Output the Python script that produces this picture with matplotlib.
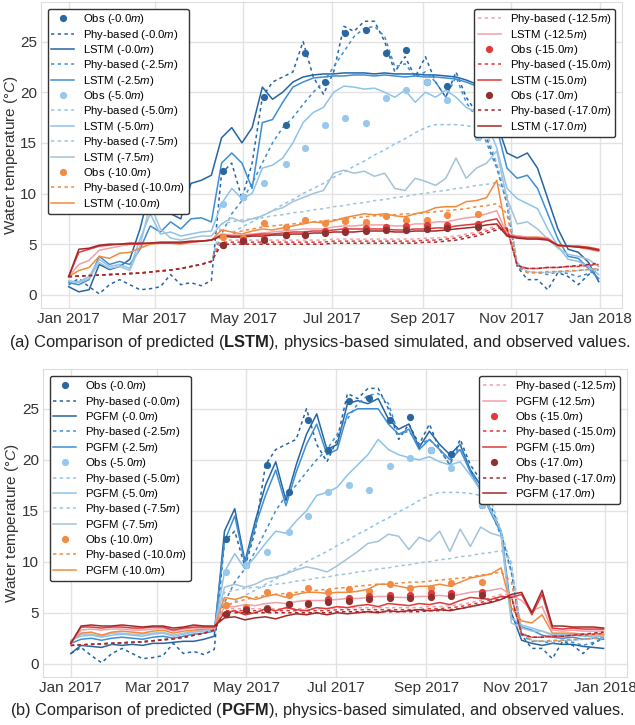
import numpy as np
import pandas as pd
import matplotlib
matplotlib.use("Agg")
import matplotlib.pyplot as plt
import matplotlib.dates as mdates

plt.rcParams['font.family'] = ['Liberation Sans', 'DejaVu Sans']
plt.rcParams['mathtext.fontset'] = 'custom'
plt.rcParams['mathtext.rm'] = 'Liberation Sans'
plt.rcParams['mathtext.it'] = 'Liberation Sans:italic'
plt.rcParams['mathtext.bf'] = 'Liberation Sans:bold'

# ---------------- data ----------------
week_dates = pd.date_range("2017-01-01", periods=53, freq="7D")
depths = [0.0, 2.5, 5.0, 7.5, 10.0, 12.5, 15.0, 17.0]

obs_dates = pd.to_datetime(["2017-04-17", "2017-05-01", "2017-05-15", "2017-05-30", "2017-06-12",
                            "2017-06-26", "2017-07-10", "2017-07-24", "2017-08-07", "2017-08-21",
                            "2017-09-04", "2017-09-18", "2017-10-09"])
obs_00 = [12.2, 9.7, 19.5, 16.8, 23.9, 21.0, 25.8, 26.1, 23.9, 24.2, 21.0, 20.6, 15.6]
obs_50 = [9.0, 9.7, 11.0, 12.9, 14.5, 16.8, 17.5, 17.0, 19.4, 20.2, 21.0, 19.2, 15.6]
obs_100 = [5.75, 5.6, 7.05, 6.7, 7.4, 7.05, 7.3, 7.15, 7.8, 7.4, 7.4, 7.9, 8.0]
obs_150 = [4.9, 5.4, 5.5, 5.9, 6.0, 6.3, 6.4, 6.6, 6.7, 6.75, 6.9, 6.9, 7.0]
obs_170 = [4.9, 5.3, 5.4, 5.9, 5.9, 6.1, 6.2, 6.3, 6.4, 6.4, 6.5, 6.6, 6.7]

phy_00 = [1.0, 1.6, 0.8, 0.1, 1.0, 1.5, 1.0, 0.5, 0.6, 0.8, 2.0, 1.0, 1.2, 0.9, 1.4,
          12.0, 13.0, 9.5, 13.0, 19.5, 21.0, 21.5, 22.0, 25.0, 21.5, 19.8,
          22.0, 26.5, 26.0, 27.0, 27.0, 25.0, 22.0, 23.5, 21.5, 23.5, 21.0, 19.5, 22.0, 19.5, 18.0,
          15.5, 12.8, 9.0, 2.8, 1.5, 1.5, 0.5, 2.2, 1.8, 1.0, 2.0, 2.5]
phy_25 = [1.8, 1.85, 1.9, 1.95, 2.0, 2.05, 2.1, 2.15, 2.25, 2.35, 2.45, 2.6, 2.8, 3.0, 3.3,
          6.0, 8.0, 9.3, 11.0, 13.0, 15.0, 16.5, 17.5, 18.8, 20.0, 21.0,
          22.5, 24.0, 25.5, 26.3, 26.5, 25.5, 22.5, 22.8, 21.5, 22.0, 21.0, 19.5, 21.5, 19.0, 17.5,
          15.0, 12.5, 9.0, 2.8, 2.2, 2.2, 2.0, 2.3, 2.1, 1.8, 2.1, 2.5]
phy_50 = [1.8, 1.85, 1.9, 1.95, 2.0, 2.05, 2.1, 2.15, 2.25, 2.35, 2.45, 2.6, 2.8, 3.0, 3.3,
          5.6, 6.1, 6.7, 7.2, 7.8, 8.3, 8.9, 9.4, 10.0, 10.5, 11.0,
          11.6, 12.1, 12.7, 13.2, 13.8, 14.3, 14.9, 15.4, 16.0, 16.5, 16.8, 16.8, 16.8, 16.7, 16.5,
          16.0, 13.0, 9.5, 3.2, 2.3, 2.2, 2.2, 2.3, 2.3, 2.4, 2.5, 2.6]
phy_75 = [1.8, 1.85, 1.9, 1.95, 2.0, 2.05, 2.1, 2.15, 2.25, 2.35, 2.45, 2.6, 2.8, 3.0, 3.3,
          7.0, 7.2, 7.4, 7.5, 7.6, 7.8, 7.9, 8.1, 8.2, 8.4, 8.5,
          8.7, 8.8, 9.0, 9.1, 9.3, 9.4, 9.6, 9.7, 9.9, 10.0, 10.2, 10.3, 10.5, 10.6, 10.8,
          10.9, 11.1, 10.0, 3.0, 2.3, 2.2, 2.2, 2.3, 2.3, 2.4, 2.5, 2.6]
phy_100 = [1.8, 1.85, 1.9, 1.95, 2.0, 2.05, 2.1, 2.15, 2.25, 2.35, 2.45, 2.6, 2.8, 3.0, 3.3,
           5.6, 6.0, 6.3, 6.5, 6.7, 6.8, 6.9, 7.0, 7.1, 7.2, 7.3,
           7.4, 7.5, 7.6, 7.7, 7.8, 7.8, 7.9, 8.0, 8.0, 8.1, 8.2, 8.3, 8.4, 8.5, 8.7,
           8.8, 9.0, 8.0, 3.0, 2.2, 2.2, 2.3, 2.3, 2.4, 2.4, 2.5, 2.6]
phy_125 = [1.8, 1.85, 1.9, 1.95, 2.0, 2.05, 2.1, 2.15, 2.25, 2.35, 2.45, 2.6, 2.8, 3.0, 3.3,
           5.4, 5.4, 5.4, 5.4, 5.4, 5.4, 5.4, 5.4, 5.4, 5.4, 5.4,
           5.5, 5.5, 5.5, 5.5, 5.5, 5.5, 5.5, 5.5, 5.5, 5.6, 5.6, 5.7, 5.8, 6.0, 6.2,
           6.5, 6.8, 6.8, 2.9, 2.6, 2.6, 2.7, 2.7, 2.8, 2.8, 2.9, 3.0]
phy_150 = [1.8, 1.85, 1.9, 1.95, 2.0, 2.05, 2.1, 2.15, 2.25, 2.35, 2.45, 2.6, 2.8, 3.0, 3.3,
           5.2, 5.2, 5.2, 5.2, 5.2, 5.2, 5.2, 5.2, 5.2, 5.2, 5.2,
           5.3, 5.3, 5.3, 5.3, 5.3, 5.3, 5.3, 5.3, 5.3, 5.4, 5.4, 5.5, 5.6, 5.8, 6.0,
           6.3, 6.6, 6.6, 2.9, 2.6, 2.6, 2.7, 2.7, 2.8, 2.8, 2.9, 3.0]
phy_170 = [1.8, 1.85, 1.9, 1.95, 2.0, 2.05, 2.1, 2.15, 2.25, 2.35, 2.45, 2.6, 2.8, 3.0, 3.3,
           5.0, 5.0, 5.0, 5.0, 5.0, 5.0, 5.0, 5.0, 5.0, 5.0, 5.0,
           5.1, 5.1, 5.1, 5.1, 5.1, 5.1, 5.1, 5.1, 5.1, 5.2, 5.2, 5.3, 5.4, 5.6, 5.8,
           6.1, 6.4, 6.5, 2.9, 2.6, 2.6, 2.7, 2.7, 2.8, 2.9, 3.0, 3.1]

lstm_00 = [0.8, 0.3, 0.5, 3.0, 2.5, 2.8, 3.5, 6.5, 10.5, 9.0, 8.0, 7.5, 11.0, 11.3, 11.8,
           15.5, 16.5, 15.0, 16.5, 20.5, 19.3, 20.0, 21.0, 21.5, 21.7, 21.8,
           21.8, 21.9, 21.9, 21.9, 21.8, 21.9, 21.8, 21.8, 21.8, 21.7, 21.7, 21.6, 21.5, 21.2, 20.8,
           20.0, 17.0, 14.0, 13.5, 14.0, 12.5, 9.5, 6.5, 4.5, 4.2, 3.2, 1.3]
lstm_25 = [1.2, 1.0, 1.5, 3.8, 3.0, 3.3, 3.0, 4.5, 6.8, 6.2, 7.2, 6.5, 7.5, 7.6, 7.2,
           13.0, 14.0, 13.0, 10.5, 17.0, 17.3, 19.0, 20.5, 21.0, 21.4, 21.5,
           21.6, 21.6, 21.7, 21.7, 21.6, 21.7, 21.6, 21.5, 21.6, 21.5, 21.5, 21.4, 21.3, 21.0, 20.6,
           19.5, 16.5, 12.5, 11.5, 11.8, 10.5, 8.0, 5.5, 3.8, 3.6, 2.6, 1.6]
lstm_50 = [1.3, 1.3, 1.8, 3.5, 2.8, 3.0, 2.6, 5.5, 8.0, 6.0, 6.2, 5.8, 6.0, 6.2, 6.3,
           9.0, 10.5, 9.5, 10.0, 12.5, 12.8, 13.5, 15.0, 17.0, 18.0, 18.5,
           20.0, 20.6, 20.5, 20.3, 20.4, 20.0, 19.5, 20.2, 19.0, 20.0, 19.5, 20.2, 19.5, 18.5, 18.0,
           17.0, 14.5, 10.5, 9.5, 9.0, 8.5, 6.5, 4.8, 3.5, 3.3, 2.8, 2.0]
lstm_75 = [1.4, 1.2, 1.6, 3.2, 2.6, 2.8, 2.4, 4.8, 9.0, 6.5, 5.6, 5.4, 5.6, 5.8, 5.8,
           7.0, 7.6, 7.2, 7.5, 7.8, 8.3, 8.6, 9.2, 9.6, 10.0, 10.3,
           12.0, 12.3, 12.0, 12.2, 11.7, 12.0, 10.5, 10.3, 11.5, 11.2, 10.8, 11.5, 13.5, 11.5, 12.5,
           13.0, 14.2, 9.5, 7.0, 7.2, 6.5, 5.5, 4.6, 4.0, 3.8, 3.5, 2.8]
lstm_100 = [1.8, 2.4, 2.7, 3.8, 3.6, 4.1, 4.2, 4.6, 5.0, 5.1, 5.1, 5.0, 5.2, 5.3, 5.4,
            6.4, 6.2, 6.0, 6.3, 6.5, 6.4, 6.6, 6.8, 7.0, 7.2, 7.1,
            7.3, 7.6, 7.8, 8.0, 7.9, 8.0, 7.8, 7.7, 8.0, 8.2, 8.6, 8.7, 8.7, 9.2, 9.3,
            9.6, 11.3, 6.0, 5.8, 5.7, 5.7, 5.6, 4.8, 4.8, 4.7, 4.5, 4.3]
lstm_125 = [1.8, 3.0, 3.4, 4.4, 4.6, 4.8, 5.0, 5.0, 5.1, 5.1, 5.1, 5.1, 5.2, 5.3, 5.4,
            6.0, 5.9, 5.9, 6.0, 6.1, 6.2, 6.3, 6.4, 6.5, 6.5, 6.5,
            6.7, 6.8, 6.8, 6.9, 6.9, 6.9, 6.8, 6.8, 7.0, 7.0, 7.2, 7.2, 7.4, 7.6, 7.7,
            8.0, 8.3, 6.0, 5.8, 5.7, 5.6, 5.6, 4.9, 4.8, 4.8, 4.6, 4.4]
lstm_150 = [1.8, 4.2, 4.5, 4.8, 4.9, 5.0, 5.0, 5.0, 5.1, 5.1, 5.1, 5.1, 5.2, 5.3, 5.4,
            5.9, 5.8, 5.8, 5.9, 6.0, 6.0, 6.1, 6.2, 6.2, 6.3, 6.3,
            6.4, 6.5, 6.5, 6.5, 6.5, 6.5, 6.4, 6.4, 6.5, 6.5, 6.6, 6.6, 6.8, 6.9, 7.0,
            7.3, 7.5, 5.9, 5.7, 5.6, 5.6, 5.5, 4.9, 4.8, 4.8, 4.7, 4.5]
lstm_170 = [1.8, 4.5, 4.6, 4.9, 5.0, 5.0, 5.1, 5.1, 5.1, 5.2, 5.2, 5.2, 5.3, 5.3, 5.4,
            5.8, 5.7, 5.7, 5.8, 5.8, 5.9, 5.9, 6.0, 6.0, 6.1, 6.1,
            6.2, 6.2, 6.2, 6.3, 6.3, 6.3, 6.2, 6.2, 6.3, 6.3, 6.3, 6.4, 6.5, 6.6, 6.7,
            6.9, 7.0, 5.8, 5.6, 5.5, 5.5, 5.4, 4.9, 4.8, 4.7, 4.6, 4.4]

pgfm_00 = [1.0, 1.8, 1.7, 1.6, 1.9, 1.8, 1.9, 1.8, 2.0, 2.0, 2.1, 2.2, 2.2, 2.4, 2.7,
           13.0, 15.2, 10.0, 14.0, 17.5, 19.8, 16.0, 19.5, 22.5, 24.5, 21.0,
           21.5, 25.5, 25.8, 25.5, 26.0, 24.0, 23.0, 23.5, 21.2, 22.8, 21.5, 20.5, 21.5, 19.0, 17.5,
           15.0, 13.0, 5.0, 2.3, 2.0, 1.8, 2.0, 1.9, 1.9, 1.7, 1.6, 1.5]
pgfm_25 = [2.0, 2.4, 2.5, 2.3, 2.5, 2.6, 2.5, 2.4, 2.6, 2.7, 2.5, 2.7, 2.9, 3.0, 3.2,
           12.0, 14.5, 9.8, 13.5, 16.5, 19.0, 15.5, 18.8, 21.5, 23.5, 20.5,
           21.0, 24.5, 25.0, 25.0, 25.0, 23.5, 22.5, 23.0, 21.0, 22.0, 21.0, 20.0, 21.0, 18.8, 17.0,
           14.8, 12.8, 4.5, 3.6, 3.3, 2.8, 2.6, 2.5, 2.6, 2.4, 2.5, 2.4]
pgfm_50 = [2.3, 2.7, 2.8, 2.6, 2.8, 2.9, 2.8, 2.7, 2.9, 3.0, 2.7, 2.9, 3.1, 3.2, 3.3,
           9.0, 10.8, 9.3, 10.5, 11.8, 13.0, 12.8, 14.0, 15.0, 16.5, 16.8,
           17.3, 18.5, 19.5, 20.5, 22.0, 21.0, 20.5, 20.2, 20.0, 20.3, 19.8, 19.5, 19.8, 18.5, 17.0,
           15.0, 13.0, 4.5, 3.8, 3.5, 3.2, 2.8, 2.7, 2.8, 2.7, 2.7, 2.7]
pgfm_75 = [2.2, 2.9, 2.9, 2.7, 3.0, 3.0, 2.9, 2.9, 3.0, 3.1, 2.8, 3.0, 3.2, 3.3, 3.4,
           7.5, 7.8, 7.5, 7.8, 8.3, 8.5, 8.8, 9.2, 9.5, 9.3, 9.0,
           9.6, 10.3, 11.0, 11.8, 12.0, 12.7, 12.5, 11.2, 12.4, 12.0, 13.0, 11.0, 13.2, 11.5, 13.4,
           12.8, 12.5, 4.0, 3.5, 3.2, 3.2, 2.9, 2.9, 2.8, 2.8, 2.8, 2.8]
pgfm_100 = [2.2, 3.0, 3.1, 2.8, 3.1, 3.2, 3.1, 3.0, 3.2, 3.3, 3.0, 3.2, 3.3, 3.4, 3.5,
            6.5, 6.3, 6.6, 6.3, 6.6, 6.8, 6.5, 6.8, 7.0, 7.0, 6.9,
            7.0, 7.0, 7.1, 7.3, 7.8, 7.8, 7.6, 7.4, 7.6, 7.6, 7.8, 7.6, 8.0, 8.4, 8.6,
            8.8, 9.4, 5.5, 4.2, 4.0, 4.8, 3.0, 3.0, 3.0, 2.9, 2.9, 2.9]
pgfm_125 = [2.0, 3.3, 3.4, 3.3, 3.4, 3.4, 3.3, 3.3, 3.4, 3.5, 3.2, 3.4, 3.5, 3.5, 3.5,
            5.6, 5.6, 5.8, 5.7, 5.9, 6.0, 5.9, 6.1, 6.2, 6.2, 6.2,
            6.3, 6.4, 6.4, 6.5, 6.6, 6.6, 6.5, 6.5, 6.6, 6.6, 6.7, 6.6, 6.8, 7.0, 7.1,
            7.2, 7.4, 6.7, 6.2, 5.2, 5.6, 3.3, 3.2, 3.3, 3.2, 3.2, 3.2]
pgfm_150 = [2.0, 3.6, 3.6, 3.5, 3.6, 3.6, 3.5, 3.5, 3.6, 3.6, 3.3, 3.5, 3.6, 3.6, 3.6,
            5.0, 5.2, 4.8, 5.0, 5.4, 5.2, 5.5, 5.3, 5.2, 5.5, 5.4,
            5.6, 5.5, 5.7, 5.8, 5.6, 5.9, 5.8, 5.7, 5.9, 5.8, 6.0, 5.8, 6.2, 6.5, 6.4,
            6.3, 6.6, 6.5, 6.8, 4.8, 6.8, 3.5, 3.4, 3.5, 3.4, 3.4, 3.4]
pgfm_170 = [2.0, 3.7, 3.8, 3.7, 3.7, 3.8, 3.7, 3.6, 3.7, 3.7, 3.5, 3.6, 3.8, 3.7, 3.7,
            4.5, 4.6, 4.3, 4.5, 4.6, 4.4, 4.7, 4.9, 4.8, 5.0, 4.8,
            5.0, 4.9, 5.0, 5.1, 5.0, 5.2, 5.1, 5.2, 5.3, 5.2, 5.3, 5.2, 5.4, 5.6, 5.8,
            6.0, 6.3, 6.8, 7.0, 5.0, 7.2, 3.7, 3.7, 3.6, 3.6, 3.6, 3.5]

colors = ["#2565a3", "#3d8ed3", "#8dc3eb", "#a3c3d8", "#f28a3c", "#efa0a8", "#e0393a", "#a3282a"]
obs_colors = {0.0: "#2a66a0", 5.0: "#98c9ec", 10.0: "#f08c46", 15.0: "#df3a3d", 17.0: "#8e3030"}

phy = [phy_00, phy_25, phy_50, phy_75, phy_100, phy_125, phy_150, phy_170]
lstm = [lstm_00, lstm_25, lstm_50, lstm_75, lstm_100, lstm_125, lstm_150, lstm_170]
pgfm = [pgfm_00, pgfm_25, pgfm_50, pgfm_75, pgfm_100, pgfm_125, pgfm_150, pgfm_170]
obs = {0.0: obs_00, 5.0: obs_50, 10.0: obs_100, 15.0: obs_150, 17.0: obs_170}

fig = plt.figure(figsize=(6.35, 7.25), dpi=100)
ax_a = fig.add_axes([41/635, 1-308/725, 581/635, 306/725])
ax_b = fig.add_axes([43/635, 1-677/725, 584/635, 308/725])


def draw(ax, model, name):
    handles = []
    for i, d in enumerate(depths):
        c = colors[i]
        if d in obs:
            h, = ax.plot(obs_dates, obs[d], 'o', color=obs_colors[d], markersize=5.2,
                         markeredgewidth=0, zorder=3, label=f"Obs (-{d:.1f}$m$)")
            handles.append(h)
        h, = ax.plot(week_dates, phy[i], color=c, lw=1.1, ls=(0, (2.2, 2.2)),
                     label=f"Phy-based (-{d:.1f}$m$)")
        handles.append(h)
        h, = ax.plot(week_dates, model[i], color=c, lw=1.1, label=f"{name} (-{d:.1f}$m$)")
        handles.append(h)
    ax.set_xlim(pd.Timestamp("2016-12-13"), pd.Timestamp("2018-01-16"))
    ax.set_ylim(-1.3, 28.9)
    ax.set_yticks([0, 5, 10, 15, 20, 25])
    ax.xaxis.set_major_locator(mdates.MonthLocator(bymonth=[1, 3, 5, 7, 9, 11]))
    ax.xaxis.set_major_formatter(mdates.DateFormatter('%b %Y'))
    ax.grid(True, color='#e3e3e3', lw=1.0)
    ax.set_axisbelow(True)
    for s in ax.spines.values():
        s.set_color('#dcdcdc')
    ax.tick_params(length=0, labelsize=11, labelcolor='#333333', pad=3)
    ax.set_ylabel("Water temperature (°$C$)", fontsize=11, color='#333333')
    ax.yaxis.set_label_coords(-0.037, 0.5)
    kw = dict(fontsize=8.2, frameon=True, fancybox=True, framealpha=1, edgecolor='#333333',
              handlelength=2.0, borderpad=0.3, labelspacing=0.12, handletextpad=0.8,
              borderaxespad=0.2)
    leg1 = ax.legend(handles=handles[:13], loc='upper left', bbox_to_anchor=(0.008, 0.985), **kw)
    ax.add_artist(leg1)
    ax.legend(handles=handles[13:], loc='upper right', bbox_to_anchor=(0.992, 0.985), **kw)


draw(ax_a, lstm, "LSTM")
draw(ax_b, pgfm, "PGFM")

fig.text(0.503, 1-343/725, r"(a) Comparison of predicted ($\mathbf{LSTM}$), physics-based simulated, and observed values.",
         ha='center', va='center', fontsize=11.9, color='#222222')
fig.text(0.5, 1-711/725, r"(b) Comparison of predicted ($\mathbf{PGFM}$), physics-based simulated, and observed values.",
         ha='center', va='center', fontsize=11.7, color='#222222')

fig.savefig("out.png", dpi=100)
